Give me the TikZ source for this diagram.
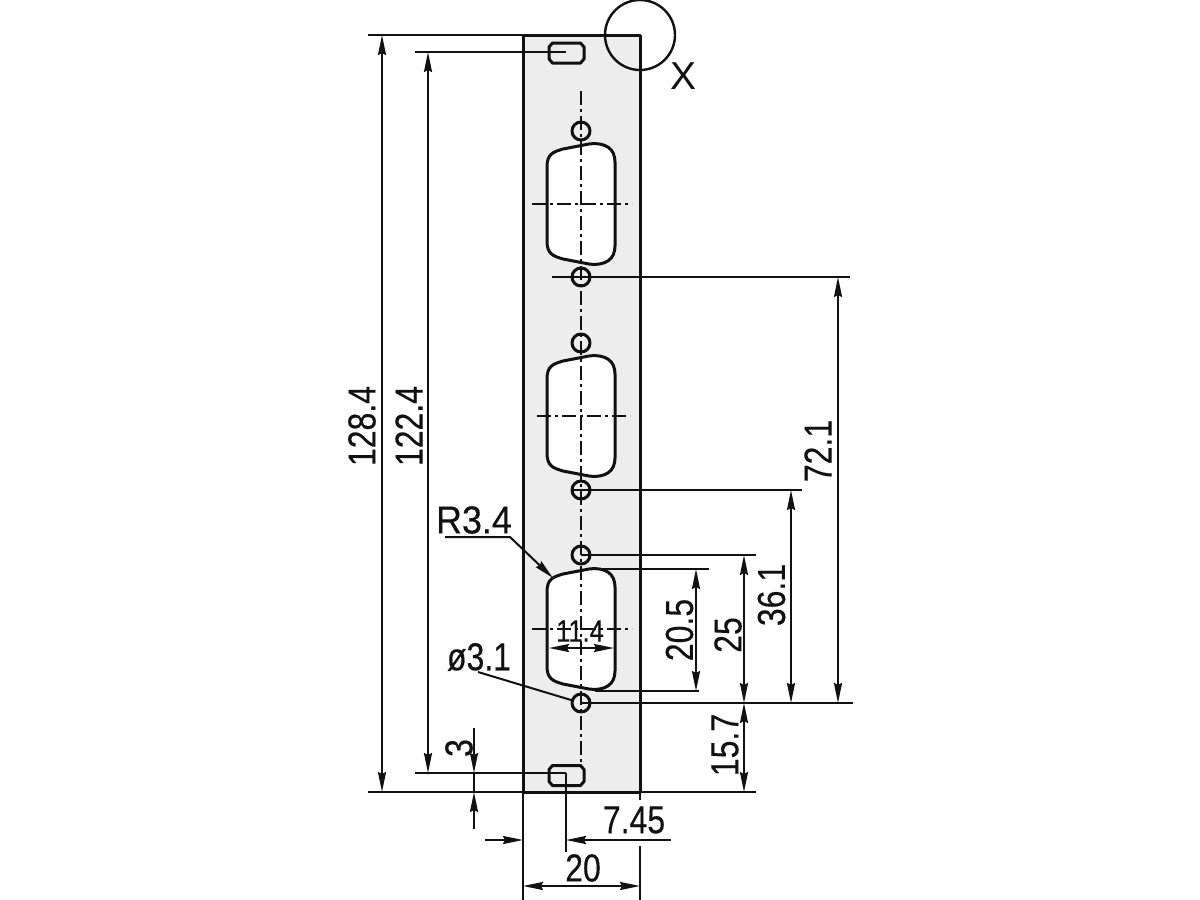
\documentclass[tikz,border=0pt]{standalone}
\usepackage{fontspec}
\usetikzlibrary{arrows.meta}
\newfontfamily\dimfont[FakeStretch=0.82,FakeBold=0.3]{Liberation Sans}
\newfontfamily\widefont[FakeStretch=0.92,FakeBold=0.3]{Liberation Sans}
\definecolor{panelgray}{HTML}{EDEDED}
\definecolor{inkc}{HTML}{111111}
\tikzset{
  dimtip/.tip={Stealth[length=20pt,width=8pt,inset=2pt]},
  outline/.style={draw=inkc,line width=3pt,line join=round},
  thin line/.style={draw=inkc,line width=2pt},
  centerline/.style={draw=inkc,line width=2pt,dash pattern=on 14pt off 4pt on 3pt off 4pt},
  dimline/.style={thin line,{dimtip}-{dimtip}},
  tipend/.style={thin line,-{dimtip}},
  dimtext/.style={font=\dimfont\fontsize{39}{39}\selectfont,text=inkc,inner sep=0pt},
  widetext/.style={font=\widefont\fontsize{39}{39}\selectfont,text=inkc,inner sep=0pt},
  hole/.style={circle,outline,minimum size=18pt,inner sep=0pt},
  pics/dsub/.style={code={
    \draw[outline,fill=white] (-34,-37) .. controls (-34,-50) and (-28,-52) .. (-18,-55)
      -- (8,-60) .. controls (25,-62) and (34,-55) .. (34,-42)
      -- (34,42) .. controls (34,55) and (25,62) .. (8,60)
      -- (-18,55) .. controls (-28,52) and (-34,50) .. (-34,37) -- cycle;
  }},
  pics/slot/.style={code={
    \draw[outline,fill=panelgray] (-14,-10) -- (14,-10) -- (17.5,-6) -- (17.5,6) -- (14,10) -- (-14,10) -- (-17.5,6) -- (-17.5,-6) -- cycle;
  }}
}
\begin{document}
\begin{tikzpicture}[x=1pt,y=-1pt]
\useasboundingbox[fill=white] (0,0) rectangle (1200,900);
% panel
\draw[outline,fill=panelgray] (523,35) rectangle (640,792);
% cut-outs
\pic at (581,204) {dsub};
\pic at (581,416) {dsub};
\pic at (581,629) {dsub};
\pic at (566.5,53) {slot};
\pic at (566.5,775.5) {slot};
% centre lines
\draw[centerline] (581,91) -- (581,765);
\draw[centerline] (532,204) -- (632,204);
\draw[centerline] (537,416) -- (630,416);
\draw[centerline] (532,629) -- (632,629);
% holes
\foreach \n/\yy in {a/131,b/277,c/343,d/490,e/555,f/703}
  \node[hole] (\n) at (581,\yy) {};
% detail circle
\draw[outline,line width=2.4pt] (640,35) circle (35);
\node[widetext,font=\fontspec{Liberation Sans}\fontsize{39}{39}\selectfont] (xlabel) at (683,76) {X};
% extension lines
\draw[thin line] (368,35) -- (640,35);
\draw[thin line] (368,792) -- (756,792);
\draw[thin line] (415,52) -- (566,52);
\draw[thin line] (415,773) -- (566,773);
\draw[thin line] (552,277) -- (850,277);
\draw[thin line] (572,490) -- (802,490);
\draw[thin line] (581,555) -- (756,555);
\draw[thin line] (593,569) -- (709,569);
\draw[thin line] (595,691) -- (699,691);
\draw[thin line] (581,703) -- (853,703);
\draw[thin line] (566,773) -- (566,852);
\draw[thin line] (523,792) -- (523,900);
\draw[thin line] (640,792) -- (640,800);
\draw[thin line] (640,846) -- (640,900);
% vertical dimensions
\draw[dimline] (382,35) -- (382,792);
\draw[dimline] (428,52) -- (428,773);
\draw[dimline] (838,277) -- (838,703);
\draw[dimline] (791,490) -- (791,703);
\draw[dimline] (744,555) -- (744,703);
\draw[dimline] (744,703) -- (744,792);
\draw[dimline] (696,569) -- (696,691);
% 3 dimension (outside arrows)
\coordinate (t1) at (474,728);
\coordinate (t2) at (474,773);
\coordinate (t3) at (474,829);
\coordinate (t4) at (474,792);
\draw[thin line] (t2) -- (t4);
\draw[tipend] (t1) -- (t2);
\draw[tipend] (t3) -- (t4);
% horizontal dimensions
\draw[dimline] (549,648) -- (614,648);
\draw[dimline] (523,886) -- (640,886);
\coordinate (s1) at (485,840);
\coordinate (s2) at (523,840);
\coordinate (s3) at (671,840);
\coordinate (s4) at (566,840);
\draw[tipend] (s1) -- (s2);
\draw[tipend] (s3) -- (s4);
% leaders
\coordinate (r1) at (445,537);
\coordinate (r2) at (510,537);
\coordinate (r3) at (553,578);
\draw[tipend] (r1) -- (r2) -- (r3);
\coordinate (d1) at (478,672);
\draw[thin line] (d1) -- (f);
% labels
\node[dimtext,rotate=90] (l1284) at (362,426) {128.4};
\node[dimtext,rotate=90] (l1224) at (409,426) {122.4};
\node[dimtext,rotate=90] (l3) at (459,748) {3};
\node[dimtext,rotate=90] (l157) at (725,745) {15.7};
\node[dimtext,rotate=90] (l721) at (818,451) {72.1};
\node[dimtext,rotate=90] (l361) at (771.5,595) {36.1};
\node[dimtext,rotate=90] (l25) at (728,635) {25};
\node[dimtext,rotate=90] (l205) at (679.5,630) {20.5};
\node[dimtext] (l114) at (580,631) {\fontsize{31}{31}\selectfont 11.4};
\node[widetext] (lr) at (474,520) {R3.4};
\node[dimtext] (lphi) at (479,657) {ø3.1};
\node[dimtext] (l745) at (634,820) {7.45};
\node[dimtext] (l20) at (583,868) {20};
\end{tikzpicture}
\end{document}
